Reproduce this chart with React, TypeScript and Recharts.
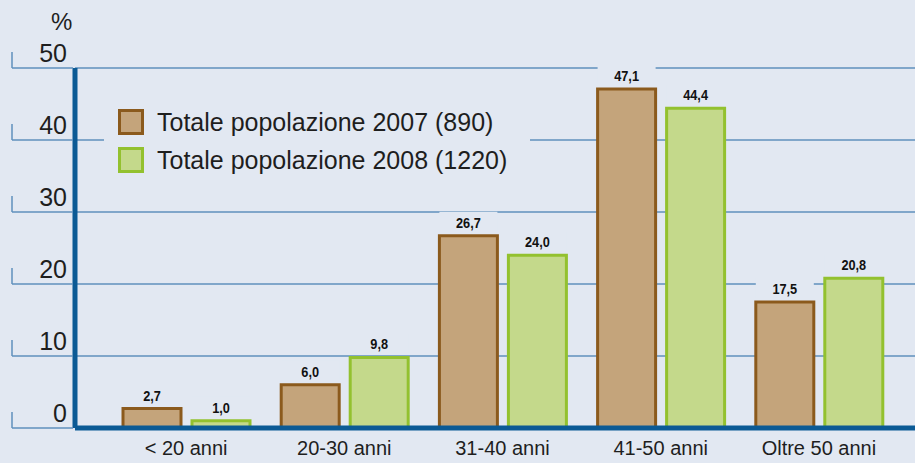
import React from 'react';
import { BarChart, Bar, XAxis, YAxis, CartesianGrid, LabelList, Legend } from 'recharts';

const categories = ['< 20 anni', '20-30 anni', '31-40 anni', '41-50 anni', 'Oltre 50 anni'];
const values2007 = [2.7, 6.0, 26.7, 47.1, 17.5];
const values2008 = [1.0, 9.8, 24.0, 44.4, 20.8];
const yTicks = [0, 10, 20, 30, 40, 50];
const seriesNames = ['Totale popolazione 2007 (890)', 'Totale popolazione 2008 (1220)'];

const data = categories.map((c, i) => ({ cat: c, v2007: values2007[i], v2008: values2008[i] }));

const BG = '#e2e8f2';
const GRID = '#5f90bd';
const AXIS = '#0b5a95';
const TEXT = '#1e1e1e';
const FONT = '"Liberation Sans", Arial, sans-serif';

const C07 = { fill: '#c4a47b', stroke: '#8b5a1d' };
const C08 = { fill: '#c4d98b', stroke: '#93c12f' };

const fmt = (v: number) => v.toFixed(1).replace('.', ',');

const YTick = (props: any) => {
  const { x, y, payload } = props;
  return (
    <g>
      <line x1={x - 63} x2={x - 2} y1={y} y2={y} stroke={GRID} strokeWidth={1.5} />
      <line x1={x - 63} x2={x - 63} y1={y - 16} y2={y} stroke={GRID} strokeWidth={1.5} />
      <text x={x - 8} y={y - 6} textAnchor="end" fontSize={25} fontFamily={FONT} fill={TEXT}>
        {payload.value}
      </text>
    </g>
  );
};

const BarLabel = (props: any) => {
  const { x, y, width, value } = props;
  return (
    <g>
      <rect x={x} y={y - 24} width={width} height={20} fill={BG} />
      <text
        transform={`translate(${x + width / 2}, ${y - 8}) scale(0.85, 1)`}
        textAnchor="middle"
        fontSize={15}
        fontWeight="bold"
        fontFamily={FONT}
        fill="#111"
      >
        {fmt(value)}
      </text>
    </g>
  );
};

const LegendContent = () => {
  const items = [
    { name: seriesNames[0], c: C07 },
    { name: seriesNames[1], c: C08 },
  ];
  return (
    <div style={{ background: BG, width: 426, height: 84, paddingTop: 11, boxSizing: 'border-box' }}>
      {items.map((it) => (
        <div key={it.name} style={{ display: 'flex', alignItems: 'center', height: 38, paddingLeft: 14 }}>
          <div
            style={{
              width: 20,
              height: 20,
              background: it.c.fill,
              border: `3px solid ${it.c.stroke}`,
              marginRight: 13,
            }}
          />
          <span style={{ fontFamily: FONT, fontSize: 25, color: TEXT, whiteSpace: 'nowrap' }}>{it.name}</span>
        </div>
      ))}
    </div>
  );
};

export default function App() {
  return (
    <div style={{ position: 'absolute', left: 0, top: 0, width: 915, height: 463, background: BG, overflow: 'hidden' }}>
      <div style={{ position: 'absolute', left: 51, top: 8, fontFamily: FONT, fontSize: 24, color: TEXT }}>%</div>
      <BarChart
        width={915}
        height={463}
        data={data}
        margin={{ top: 68, right: 0, bottom: 0, left: 12 }}
        barCategoryGap={16}
        barGap={11}
      >
        <CartesianGrid vertical={false} stroke={GRID} strokeWidth={1.5} />
        <XAxis
          dataKey="cat"
          height={35}
          padding={{ left: 32, right: 17 }}
          axisLine={{ stroke: AXIS, strokeWidth: 5 }}
          tickLine={false}
          tickSize={0}
          tickMargin={13}
          tick={{ fontSize: 20, fill: TEXT, fontFamily: FONT }}
          interval={0}
        />
        <YAxis
          width={63}
          domain={[0, 50]}
          ticks={yTicks}
          axisLine={{ stroke: AXIS, strokeWidth: 5 }}
          tickLine={false}
          tickSize={0}
          tickMargin={0}
          tick={<YTick />}
          allowDataOverflow
        />
        <Legend
          layout="vertical"
          align="center"
          verticalAlign="middle"
          content={<LegendContent />}
          wrapperStyle={{ left: 104, top: 92, width: 426, height: 84 }}
        />
        <Bar dataKey="v2007" name={seriesNames[0]} fill={C07.fill} stroke={C07.stroke} strokeWidth={3} isAnimationActive={false}>
          <LabelList dataKey="v2007" content={<BarLabel />} />
        </Bar>
        <Bar dataKey="v2008" name={seriesNames[1]} fill={C08.fill} stroke={C08.stroke} strokeWidth={3} isAnimationActive={false}>
          <LabelList dataKey="v2008" content={<BarLabel />} />
        </Bar>
      </BarChart>
    </div>
  );
}
